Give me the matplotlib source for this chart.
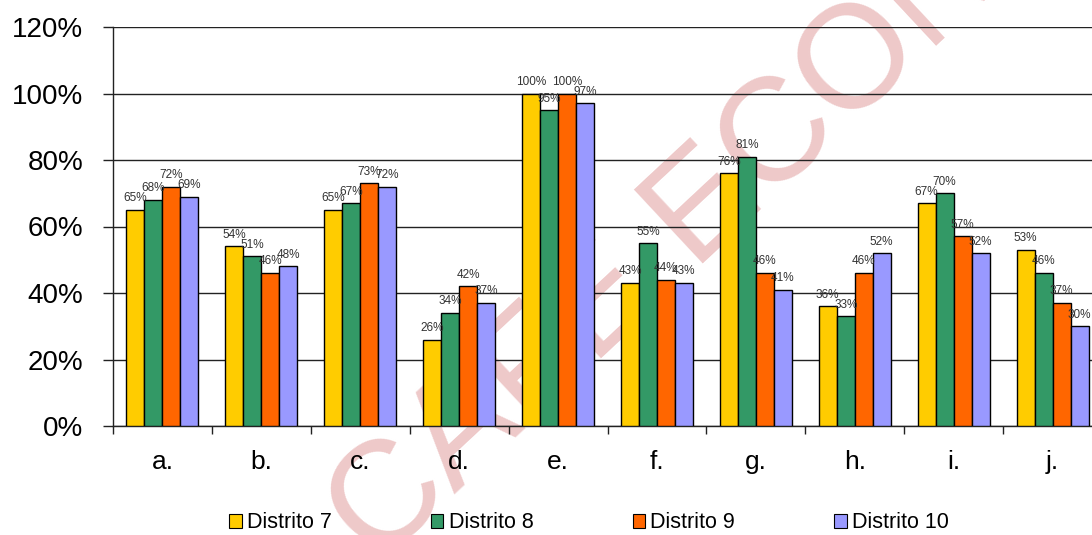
import matplotlib
matplotlib.use("Agg")
import matplotlib.pyplot as plt
from matplotlib.patches import Patch
import numpy as np

plt.rcParams['font.family'] = ['Liberation Sans', 'DejaVu Sans']

categories = ['a.', 'b.', 'c.', 'd.', 'e.', 'f.', 'g.', 'h.', 'i.', 'j.']
series_names = ['Distrito 7', 'Distrito 8', 'Distrito 9', 'Distrito 10']
distrito7 = [65, 54, 65, 26, 100, 43, 76, 36, 67, 53]
distrito8 = [68, 51, 67, 34, 95, 55, 81, 33, 70, 46]
distrito9 = [72, 46, 73, 42, 100, 44, 46, 46, 57, 37]
distrito10 = [69, 48, 72, 37, 97, 43, 41, 52, 52, 30]
yticks = [0, 20, 40, 60, 80, 100, 120]
colors = ['#FFCC00', '#339966', '#FF6600', '#9999FF']

series = [distrito7, distrito8, distrito9, distrito10]

W, H = 1092, 535
fig = plt.figure(figsize=(W / 100, H / 100), dpi=100)
ax = fig.add_axes([113 / W, (H - 426) / H, 989 / W, 399 / H])
ax.patch.set_visible(False)

# watermark
fig.text(377 / W, (H - 567) / H, 'CAFE ECONOMICA', fontsize=106, color='#eec9c9',
         rotation=43, rotation_mode='anchor', ha='left', va='baseline', zorder=-5)

x = np.arange(len(categories))
bw = 1 / 5.5
for i, (vals, c, name) in enumerate(zip(series, colors, series_names)):
    pos = x + (i - 1.5) * bw
    ax.bar(pos, vals, width=bw, color=c, edgecolor='black', linewidth=1.0, zorder=3)
    for px, v in zip(pos, vals):
        ax.annotate(f'{v}%', (px, v), xytext=(0, 4), textcoords='offset points',
                    ha='center', va='bottom', fontsize=8.5, color='#333333', zorder=5)

ax.set_xlim(-0.5, len(categories) - 0.5)
ax.set_ylim(0, 120)
ax.set_yticks(yticks)
ax.set_yticklabels([f'{t}%' for t in yticks], fontsize=20)
ax.yaxis.grid(True, color='#222222', linewidth=1.0)
ax.set_axisbelow(True)

ax.set_xticks(x)
ax.set_xticklabels(categories, fontsize=19)
ax.set_xticks(np.arange(-0.5, len(categories) + 0.5, 1), minor=True)
ax.tick_params(axis='x', which='major', length=0, pad=17)
ax.tick_params(axis='x', which='minor', length=6, width=1, direction='out', color='#222222')
ax.tick_params(axis='y', length=7.5, width=1, direction='out', pad=14, color='#222222')

for s in ['top', 'right']:
    ax.spines[s].set_visible(False)
for s in ['left', 'bottom']:
    ax.spines[s].set_color('#222222')
    ax.spines[s].set_linewidth(1.0)

handles = [Patch(facecolor=c, edgecolor='black', linewidth=0.8) for c in colors]
fig.legend(handles, series_names, loc='center', bbox_to_anchor=(589 / W, (H - 523) / H),
           ncol=4, frameon=False, fontsize=15.5, handlelength=0.58, handleheight=0.58,
           handletextpad=0.25, columnspacing=4.6, borderpad=0.2)

fig.savefig('out.png', dpi=100)
